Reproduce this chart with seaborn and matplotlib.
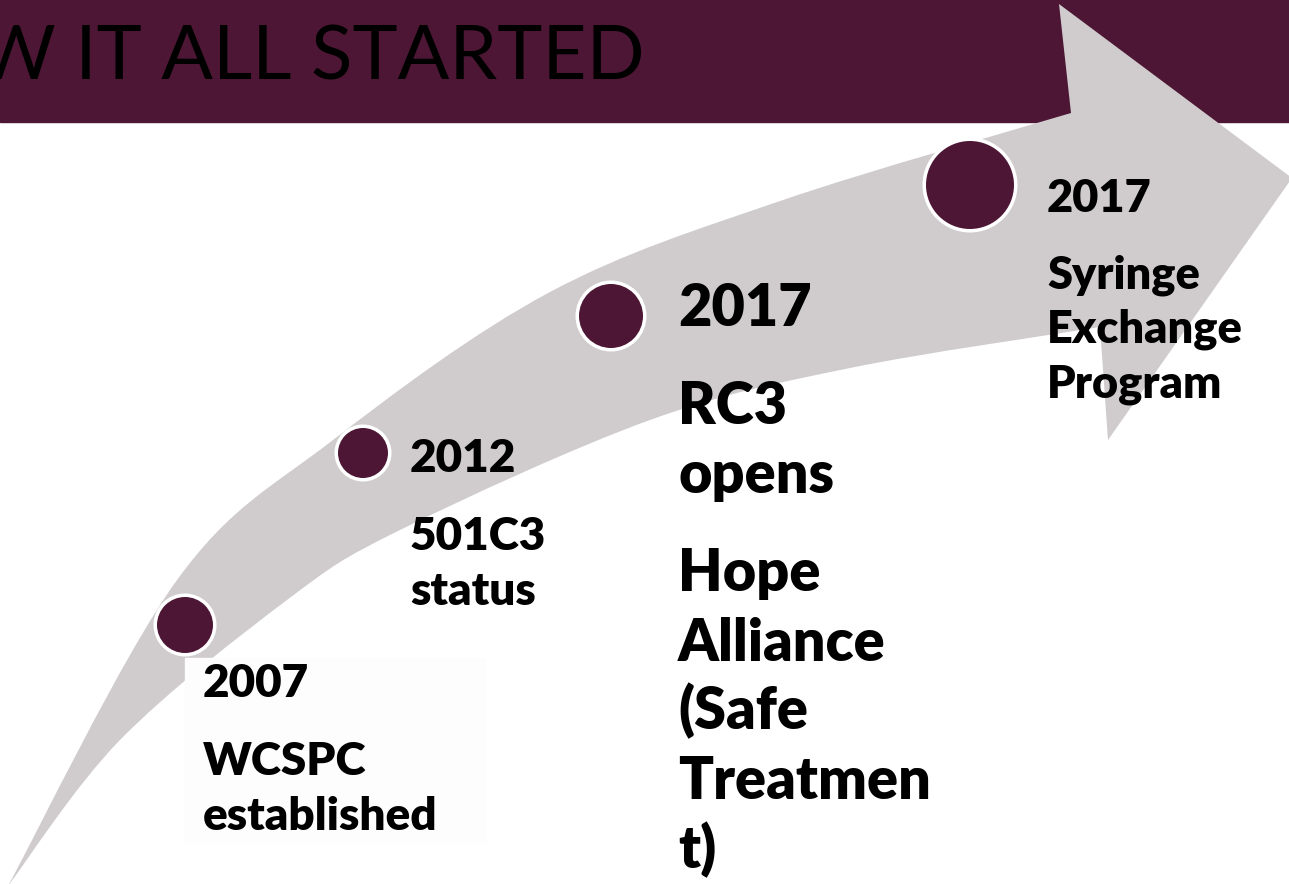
import numpy as np
import pandas as pd
import seaborn as sns
import matplotlib.pyplot as plt
from matplotlib.path import Path
from matplotlib.patches import PathPatch, Rectangle

# --- content ---
title = "HOW IT ALL STARTED"
years = ["2007", "2012", "2017", "2017"]
events = [
    [["WCSPC", "established"]],
    [["501C3", "status"]],
    [["RC3", "opens"], ["Hope", "Alliance", "(Safe", "Treatmen", "t)"]],
    [["Syringe", "Exchange", "Program"]],
]

# --- layout (pixel coords, y grows downward) ---
dot_x = [185, 363, 611, 970]
dot_y = [625, 453, 316, 185]
dot_r = [28, 25, 32, 44]
text_x = [203, 410, 678, 1047]
text_y0 = [697, 472, 326, 212]
text_pt = [33, 33, 41.5, 32.5]

# arrow outline: upper edge tail->neck, head, lower edge tail->neck
upper_edge = [(8, 886), (177, 580), (333, 440), (550, 292), (783, 200), (1071, 113)]
lower_edge = [(8, 886), (120, 740), (287, 600), (400, 530), (650, 420),
              (850, 368), (1100, 327)]
head = [(1059, 4), (1292, 178), (1108, 440)]

MAROON = "#4D1634"
GREY = "#D0CCCE"
W, H = 1289, 884


def catmull(pts):
    # smooth curve through the points as cubic bezier pieces
    p = np.asarray(pts, float)
    ext = np.vstack([p[0], p, p[-1]])
    verts = []
    for i in range(1, len(ext) - 2):
        p0, p1, p2, p3 = ext[i - 1], ext[i], ext[i + 1], ext[i + 2]
        verts += [p1 + (p2 - p0) / 6, p2 - (p3 - p1) / 6, p2]
    return verts


sns.set_style("white")
fig = plt.figure(figsize=(W / 100, H / 100), dpi=100)
ax = fig.add_axes([0, 0, 1, 1])

# header band + title
ax.add_patch(Rectangle((0, 0), W, 122, color=MAROON, zorder=1))
ax.text(645, 79, title, ha="right", va="baseline", fontsize=55,
        family="Lato", color="black", zorder=1.5, clip_on=True)

# curved arrow
up = catmull(upper_edge)
lo = catmull(lower_edge[::-1])
verts = [upper_edge[0]] + up + head + [lower_edge[-1]] + lo + [upper_edge[0]]
codes = ([Path.MOVETO] + [Path.CURVE4] * len(up) + [Path.LINETO] * 4
         + [Path.CURVE4] * len(lo) + [Path.CLOSEPOLY])
ax.add_patch(PathPatch(Path(verts, codes), facecolor=GREY, edgecolor="none", zorder=2))

# faint text box behind the first entry
ax.add_patch(Rectangle((185, 658), 300, 184, color="#FDFDFD", zorder=3))

# milestone dots
ring = 3.5
df = pd.DataFrame({"x": dot_x, "y": dot_y, "year": years})
sizes = [((2 * r + ring) * 0.72) ** 2 for r in dot_r]
sns.scatterplot(data=df, x="x", y="y", s=sizes, color=MAROON, edgecolor="white",
                linewidth=ring * 0.72, ax=ax, zorder=4, legend=False)

# labels
for x, y0, pt, yr, paras in zip(text_x, text_y0, text_pt, years, events):
    k = pt / 33
    ax.text(x, y0, yr, fontsize=pt, fontweight="heavy", family="Lato",
            va="baseline", ha="left", color="black", zorder=5)
    y = y0
    for para in paras:
        y += 78 * k
        for j, line in enumerate(para):
            if j:
                y += 55 * k
            ax.text(x, y, line, fontsize=pt, fontweight="heavy", family="Lato",
                    va="baseline", ha="left", color="black", zorder=5)

ax.set_xlim(0, W)
ax.set_ylim(H, 0)
ax.axis("off")
fig.savefig("out.png", dpi=100)
